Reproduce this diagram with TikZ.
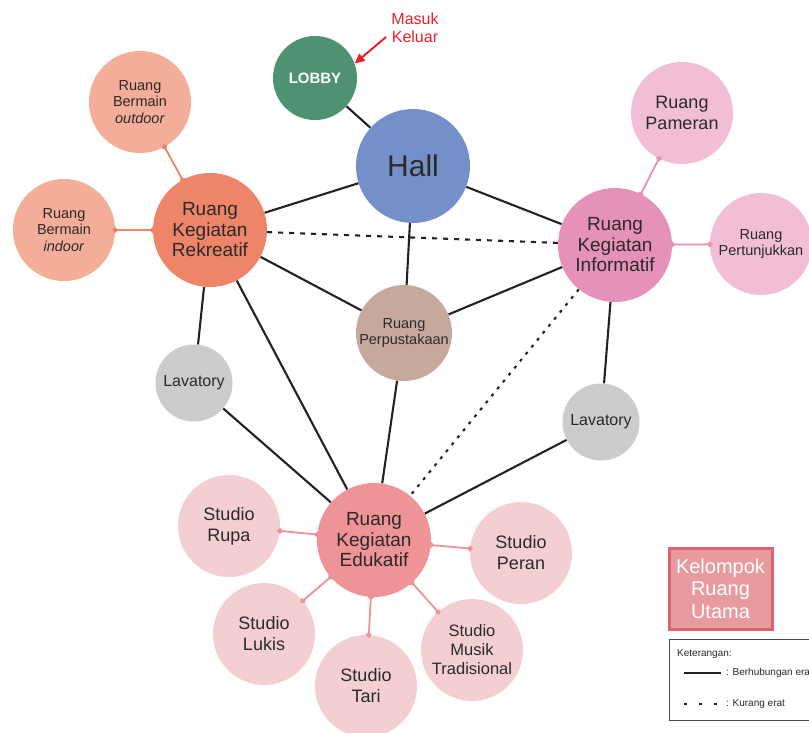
\documentclass[tikz,border=0pt]{standalone}
\usepackage{fontspec}
\setmainfont{Liberation Sans}
\usetikzlibrary{arrows.meta,backgrounds}
\definecolor{cLobby}{HTML}{4F9272}
\definecolor{cHall}{HTML}{7390C9}
\definecolor{cRek}{HTML}{EE8468}
\definecolor{cRekSub}{HTML}{F4AD98}
\definecolor{cInf}{HTML}{E691B8}
\definecolor{cInfSub}{HTML}{F2BED6}
\definecolor{cPer}{HTML}{C5A99C}
\definecolor{cLav}{HTML}{CBCCCB}
\definecolor{cEdu}{HTML}{EE9396}
\definecolor{cEduSub}{HTML}{F3CFD2}
\definecolor{cBox}{HTML}{E79B9F}
\definecolor{cBoxLine}{HTML}{DB6470}
\definecolor{cRed}{HTML}{E8212B}
\definecolor{txt}{HTML}{2A2A2A}
\definecolor{lineC}{HTML}{222222}
\begin{document}
\begin{tikzpicture}[x=1pt,y=-1pt,
  room/.style={circle,inner sep=0pt,align=center,text=txt,minimum size=#1},
  fbig/.style={font=\fontsize{19}{20.5}\selectfont},
  fmid/.style={font=\fontsize{18}{21}\selectfont},
  fsmall/.style={font=\fontsize{14.5}{16.8}\selectfont},
  rel/.style={draw=lineC,line width=2.1pt},
  weak/.style={draw=lineC,line width=2.1pt,dash pattern=on 5pt off 6pt},
  weakdot/.style={draw=lineC,line width=2.1pt,dash pattern=on 3pt off 6pt},
  sub/.style={draw=#1,line width=1.8pt,{Circle[length=5.5pt]}-{Circle[length=5.5pt]},
              shorten <=-2.75pt,shorten >=-2.75pt}
]
\useasboundingbox (0,0) rectangle (809,732);

% nodes
\node[room=84pt,fill=cLobby,text=white,font=\bfseries\fontsize{15}{17}\selectfont] (lobby) at (315,78) {LOBBY};
\node[room=114pt,fill=cHall,font=\fontsize{30}{32}\selectfont] (hall) at (413,166) {Hall};
\node[room=114pt,fill=cRek,fbig] (rek) at (210,230) {Ruang\\Kegiatan\\Rekreatif};
\node[room=102pt,fill=cRekSub,fsmall] (out) at (140,102) {Ruang\\Bermain\\\textit{outdoor}};
\node[room=102pt,fill=cRekSub,fsmall] (ind) at (64,230) {Ruang\\Bermain\\\textit{indoor}};
\node[room=114pt,fill=cInf,fbig] (inf) at (615,245) {Ruang\\Kegiatan\\Informatif};
\node[room=102pt,fill=cInfSub,fmid] (pam) at (682,113) {Ruang\\Pameran};
\node[room=102pt,fill=cInfSub,fsmall] (per) at (761,244) {Ruang\\Pertunjukkan};
\node[room=96pt,fill=cPer,fsmall] (pus) at (404,333) {Ruang\\Perpustakaan};
\node[room=77pt,fill=cLav,font=\fontsize{16}{18}\selectfont] (lavL) at (194,383) {Lavatory};
\node[room=77pt,fill=cLav,font=\fontsize{16}{18}\selectfont] (lavR) at (601,422) {Lavatory};
\node[room=114pt,fill=cEdu,fbig] (edu) at (374,540) {Ruang\\Kegiatan\\Edukatif};
\node[room=102pt,fill=cEduSub,fmid] (rupa) at (229,526) {Studio\\Rupa};
\node[room=102pt,fill=cEduSub,fmid] (lukis) at (264,634) {Studio\\Lukis};
\node[room=102pt,fill=cEduSub,fmid] (tari) at (366,686) {Studio\\Tari};
\node[room=102pt,fill=cEduSub,font=\fontsize{16.5}{19}\selectfont] (musik) at (472,650) {Studio\\Musik\\Tradisional};
\node[room=102pt,fill=cEduSub,fmid] (peran) at (521,553) {Studio\\Peran};

% entrance label
\node[text=cRed,align=center,font=\fontsize{16}{18.5}\selectfont] (mk) at (415,28) {Masuk\\Keluar};
\coordinate (mkarrow) at (386,37);
\draw[cRed,line width=2pt,-{Triangle[length=10pt,width=9pt]}] (mkarrow) -- (lobby.20);

% connectors
\begin{scope}[on background layer]
\fill[white] (0,0) rectangle (809,732);
\draw[rel] (lobby) -- (hall);
\draw[rel] (hall) -- (rek);
\draw[rel] (hall) -- (inf);
\draw[rel] (hall) -- (pus);
\draw[weak] (rek) -- (inf);
\draw[rel] (rek) -- (pus);
\draw[rel] (rek) -- (lavL);
\draw[rel] (rek) -- (edu);
\draw[rel] (lavL) -- (edu);
\draw[rel] (pus) -- (inf);
\draw[rel] (pus) -- (edu);
\draw[weakdot] (inf) -- (edu);
\draw[rel] (inf) -- (lavR);
\draw[rel] (lavR) -- (edu);
\end{scope}
\draw[sub=cRek] (rek) -- (out);
\draw[sub=cRek] (rek) -- (ind);
\draw[sub=cInf] (inf) -- (pam);
\draw[sub=cInf] (inf) -- (per);
\draw[sub=cEdu] (edu) -- (rupa);
\draw[sub=cEdu] (edu) -- (lukis);
\draw[sub=cEdu] (edu) -- (tari);
\draw[sub=cEdu] (edu) -- (musik);
\draw[sub=cEdu] (edu) -- (peran);

% group box
\node[draw=cBoxLine,line width=3pt,fill=cBox,text=white,align=center,
      minimum width=103pt,minimum height=81pt,inner sep=0pt,
      font=\fontsize{20}{22.5}\selectfont] (grp) at (720.5,588.5) {Kelompok\\Ruang\\Utama};

% legend
\node[draw=black!70,line width=1pt,minimum width=160pt,minimum height=81pt,anchor=north west,inner sep=0pt] (leg) at (669,639) {};
\node[anchor=west,text=txt,font=\fontsize{10}{12}\selectfont,inner sep=0pt] (legt) at (677,654) {Keterangan:};
\coordinate (ls1) at (684,673);
\coordinate (ls2) at (721,673);
\draw[lineC,line width=2.1pt] (ls1) -- (ls2);
\node[anchor=west,text=txt,font=\fontsize{10}{12}\selectfont,inner sep=0pt] (legs) at (726,673) {: Berhubungan erat};
\coordinate (ld1) at (684,704);
\coordinate (ld2) at (721,704);
\draw[lineC,line width=2.1pt,dash pattern=on 3pt off 12pt] (ld1) -- (ld2);
\node[anchor=west,text=txt,font=\fontsize{10}{12}\selectfont,inner sep=0pt] (legd) at (726,704) {: Kurang erat};
\end{tikzpicture}
\end{document}
